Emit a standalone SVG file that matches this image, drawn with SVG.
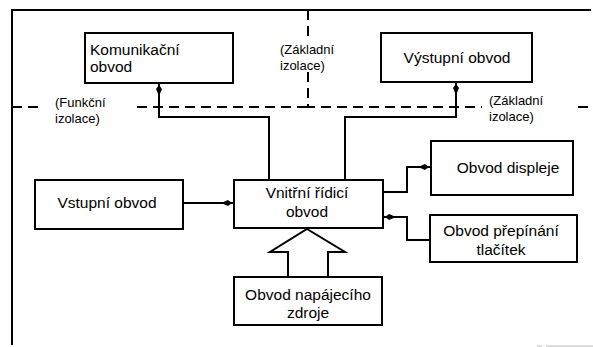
<svg xmlns="http://www.w3.org/2000/svg" width="593" height="347" viewBox="0 0 593 347">
<style>
.box{fill:#fff;stroke:#000;stroke-width:2}
.t{font-family:"Liberation Sans",Arial,sans-serif;font-size:15.5px;fill:#000}
.s{font-family:"Liberation Sans",Arial,sans-serif;font-size:13px;fill:#000}
.c{text-anchor:middle}
.ln{fill:none;stroke:#000;stroke-width:2}
.dash{fill:none;stroke:#000;stroke-width:2;stroke-dasharray:10 6}
</style>
<defs>
<marker id="ah" markerUnits="userSpaceOnUse" viewBox="0 -4 14 8" refX="13" refY="0" markerWidth="14" markerHeight="8" orient="auto">
<path d="M0,0 L7,-3 L11,0 L7,3 Z" fill="#000"/>
</marker>
</defs>
<rect width="593" height="347" fill="#fff"/>
<g id="frame">
<path class="ln" d="M12,345 V10 H591"/>
<path d="M537,346 H542 M546,346 H593" stroke="#bbb" stroke-width="1" fill="none"/>
</g>
<g id="isolation">
<path class="dash" d="M12,107 H40"/>
<path class="dash" d="M137,107 H308"/>
<path class="dash" d="M308,10 V38"/>
<path class="dash" d="M308,72 V107 H482"/>
<path class="dash" d="M578,107 H593"/>
<text class="s" x="55" y="107">(Funkční</text>
<text class="s" x="55" y="123">izolace)</text>
<text class="s" x="280" y="54">(Základní</text>
<text class="s" x="280" y="70">izolace)</text>
<text class="s" x="489" y="105">(Základní</text>
<text class="s" x="489" y="121">izolace)</text>
</g>
<g id="connectors">
<path class="ln" d="M269,180 V117 H159 V83" marker-end="url(#ah)"/>
<path class="ln" d="M345,180 V117 H456 V82" marker-end="url(#ah)"/>
<path class="ln" d="M183,203 H234" marker-end="url(#ah)"/>
<path class="ln" d="M383,192 H407 V167 H431" marker-end="url(#ah)"/>
<path class="ln" d="M430,240 H407 V217 H383" marker-end="url(#ah)"/>
<polygon class="box" points="307,229 345,252 328,252 328,277 288,277 288,252 270,252"/>
</g>
<g id="komunikacni">
<rect class="box" x="85" y="33" width="148" height="50"/>
<text class="t" x="90" y="55">Komunikační</text>
<text class="t" x="90" y="72">obvod</text>
</g>
<g id="vystupni">
<rect class="box" x="381" y="33" width="151" height="49"/>
<text class="t c" x="457" y="63">Výstupní obvod</text>
</g>
<g id="vstupni">
<rect class="box" x="35" y="180" width="148" height="49"/>
<text class="t c" x="107" y="208">Vstupní obvod</text>
</g>
<g id="vnitrni">
<rect class="box" x="234" y="180" width="149" height="48"/>
<text class="t c" x="307" y="198">Vnitřní řídicí</text>
<text class="t c" x="307" y="217">obvod</text>
</g>
<g id="displeje">
<rect class="box" x="431" y="141" width="142" height="54"/>
<text class="t c" x="508" y="173">Obvod displeje</text>
</g>
<g id="prepinani">
<rect class="box" x="430" y="215" width="147" height="47"/>
<text class="t c" x="501" y="236">Obvod přepínání</text>
<text class="t c" x="501" y="255">tlačítek</text>
</g>
<g id="napajeni">
<rect class="box" x="234" y="277" width="148" height="48"/>
<text class="t c" x="308" y="300">Obvod napájecího</text>
<text class="t c" x="308" y="318">zdroje</text>
</g>
</svg>
